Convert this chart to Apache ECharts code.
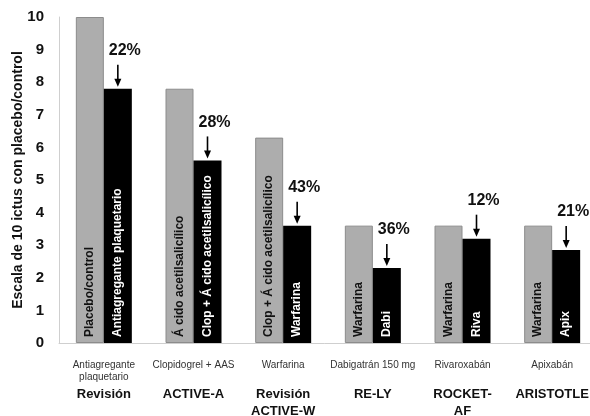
<!DOCTYPE html>
<html>
<head>
<meta charset="utf-8">
<script src="https://cdn.jsdelivr.net/npm/echarts@6/dist/echarts.min.js"></script>
<style>
  html, body { margin: 0; padding: 0; background: #fff; }
  #chart { width: 590px; height: 416px; }
</style>
</head>
<body>
<div id="chart"></div>
<script>
const drugs = ['Antiagregante\nplaquetario', 'Clopidogrel + AAS', 'Warfarina', 'Dabigatrán 150 mg', 'Rivaroxabán', 'Apixabán']
const trials = ['Revisión', 'ACTIVE-A', 'Revisión\nACTIVE-W', 'RE-LY', 'ROCKET-\nAF', 'ARISTOTLE']
const controlValues = [10, 7.8, 6.3, 3.6, 3.6, 3.6]
const treatValues = [7.8, 5.6, 3.6, 2.3, 3.2, 2.85]
const controlNames = ['Placebo/control', 'Á cido acetilsalicílico', 'Clop + Á cido acetilsalicílico', 'Warfarina', 'Warfarina', 'Warfarina']
const treatNames = ['Antiagregante plaquetario', 'Clop + Á cido acetilsalicílico', 'Warfarina', 'Dabi', 'Riva', 'Apix']
const reductions = ['22%', '28%', '43%', '36%', '12%', '21%']
const yTicks = [0, 1, 2, 3, 4, 5, 6, 7, 8, 9, 10]
const yTitle = 'Escala de 10 ictus con placebo/control'

const font = 'Liberation Sans, Arial, sans-serif'
const barW = 28

const chart = echarts.init(document.getElementById('chart'))

// axis label: drug line(s), then the bold trial name(s)
const catLabel = (value, i) => {
    const d = drugs[i].split('\n')
    const t = trials[i].split('\n')
    let s = '{d|' + d[0] + '}\n{d|' + (d[1] || ' ') + '}\n{t|' + t[0] + '}'
    if (t[1]) s += '\n{t2|' + t[1] + '}'
    return s
}

const inBar = (names, color) => ({
    show: true,
    position: 'insideBottom',
    rotate: 90,
    align: 'left',
    verticalAlign: 'middle',
    distance: 6,
    color: color,
    fontFamily: font,
    fontWeight: 'bold',
    fontSize: 12,
    formatter: p => names[p.dataIndex]
})

chart.setOption({
    animation: false,
    grid: { left: 59, right: -7, top: 17, bottom: 73, outerBoundsMode: 'none' },
    // y axis title, placed by hand
    graphic: [{
        type: 'text',
        x: 18,
        y: 180,
        rotation: Math.PI / 2,
        style: {
            text: yTitle,
            font: 'bold 14px ' + font,
            fill: '#111',
            align: 'center',
            verticalAlign: 'middle'
        }
    }],
    xAxis: {
        type: 'category',
        data: trials,
        axisLine: { lineStyle: { color: '#cfcfcf' } },
        axisTick: { show: false },
        axisLabel: {
            interval: 0,
            margin: 16,
            verticalAlign: 'top',
            formatter: catLabel,
            rich: {
                d: { fontFamily: font, fontSize: 10, color: '#333', lineHeight: 12 },
                t: { fontFamily: font, fontSize: 13, fontWeight: 'bold', color: '#111', lineHeight: 23 },
                t2: { fontFamily: font, fontSize: 13, fontWeight: 'bold', color: '#111', lineHeight: 10 }
            }
        }
    },
    yAxis: {
        type: 'value',
        min: 0,
        max: 10,
        interval: 1,
        axisLine: { show: true, lineStyle: { color: '#cfcfcf' } },
        axisTick: { show: false },
        splitLine: { show: false },
        axisLabel: {
            margin: 15,
            fontFamily: font,
            fontSize: 15,
            fontWeight: 'bold',
            color: '#111',
            formatter: v => yTicks.includes(v) ? String(v) : ''
        }
    },
    series: [
        {
            type: 'bar',
            data: controlValues,
            barWidth: barW,
            barGap: '0%',
            itemStyle: { color: '#adadad', borderColor: '#8c8c8c', borderWidth: 1 },
            label: inBar(controlNames, '#111')
        },
        {
            type: 'bar',
            data: treatValues,
            barWidth: barW,
            itemStyle: { color: '#000' },
            label: inBar(treatNames, '#fff')
        },
        {
            // arrow + reduction percentage above each treatment bar
            type: 'custom',
            data: treatValues.map((v, i) => [i, v]),
            renderItem: (params, api) => {
                const c = api.coord([api.value(0), api.value(1)])
                const x = c[0] + barW / 2
                const tip = c[1] - 2
                return {
                    type: 'group',
                    children: [
                        { type: 'line', shape: { x1: x, y1: tip - 22, x2: x, y2: tip - 6 }, style: { stroke: '#000', lineWidth: 1.6 } },
                        { type: 'polygon', shape: { points: [[x - 3.5, tip - 8], [x + 3.5, tip - 8], [x, tip]] }, style: { fill: '#000' } },
                        {
                            type: 'text',
                            x: x + 7,
                            y: c[1] - 38,
                            style: {
                                text: reductions[params.dataIndex],
                                fill: '#111',
                                font: 'bold 16px ' + font,
                                align: 'center',
                                verticalAlign: 'middle'
                            }
                        }
                    ]
                }
            }
        }
    ]
})
</script>
</body>
</html>
